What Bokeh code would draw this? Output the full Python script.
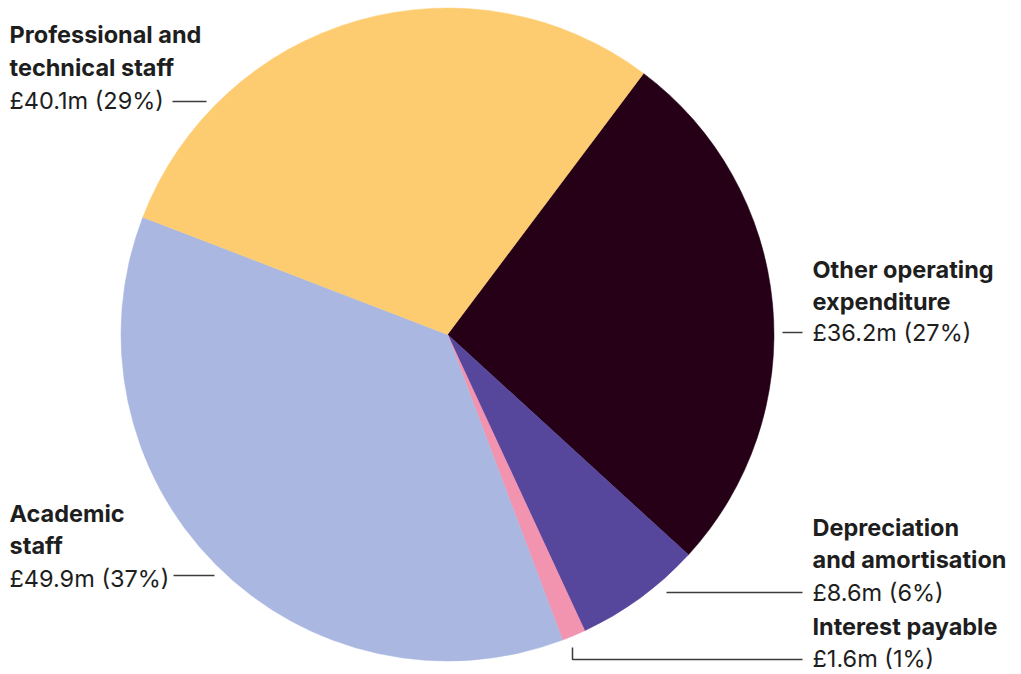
import math
from bokeh.plotting import figure
from bokeh.models import Range1d, ColumnDataSource
from bokeh.core.properties import value
from bokeh.embed import file_html
from bokeh.resources import INLINE

# ---------------- data ----------------
categories = ["Other operating expenditure", "Depreciation and amortisation",
              "Interest payable", "Academic staff", "Professional and technical staff"]
amounts = [36.2, 8.6, 1.6, 49.9, 40.1]          # £m
percents = [27, 6, 1, 37, 29]
colors = ["#250017", "#57479C", "#F293B0", "#AAB8E1", "#FECC70"]
title_lines = [["Other operating", "expenditure"],
               ["Depreciation", "and amortisation"],
               ["Interest payable"],
               ["Academic", "staff"],
               ["Professional and", "technical staff"]]

# ---------------- layout (pixel coords, y down) ----------------
W, H = 1021, 674
def Y(y_img):
    return H - y_img

CX, CY, R = 447, 334, 326.5
START_DEG = 36.9   # clockwise from 12 o'clock

FONT = value("Inter")
FS = "23.5px"
TXT = "#1e1e1e"
LINE = "#3c3c3c"
TEXT_DY = -9   # compensation for baseline placement

p = figure(width=W, height=H, output_backend="svg", toolbar_location=None,
           x_range=Range1d(0, W), y_range=Range1d(0, H),
           min_border=0, outline_line_color=None)
p.axis.visible = False
p.grid.visible = False
p.background_fill_color = "white"
p.border_fill_color = "white"

# wedges from data
total = sum(amounts)
starts, ends = [], []
acc = START_DEG
for a in amounts:
    s = acc
    e = acc + a / total * 360.0
    starts.append(math.radians(90 - s))
    ends.append(math.radians(90 - e))
    acc = e
src = ColumnDataSource(dict(x=[CX] * len(amounts), y=[Y(CY)] * len(amounts),
                            start=starts, end=ends, color=colors))
p.wedge(x="x", y="y", radius=R, start_angle="start", end_angle="end",
        direction="clock", fill_color="color", line_color="color", line_width=0.5,
        source=src)

# label placement: x and baselines of each line (title lines then value line)
label_pos = [(812, [278, 310, 341]),
             (812, [536, 568, 601]),
             (812, [635, 667]),
             (9, [522, 554, 587]),
             (9, [43, 76, 109])]

for i, (lx, bls) in enumerate(label_pos):
    lines = title_lines[i]
    for j, t in enumerate(lines):
        p.text(x=[lx], y=[Y(bls[j] + TEXT_DY)], text=[t], text_font=FONT,
               text_font_size=FS, text_font_style="bold", text_color=TXT,
               text_baseline="alphabetic", text_align="left")
    vtxt = f"£{amounts[i]}m ({percents[i]}%)"
    p.text(x=[lx], y=[Y(bls[len(lines)] + TEXT_DY)], text=[vtxt], text_font=FONT,
           text_font_size=FS, text_font_style="normal", text_color=TXT,
           text_baseline="alphabetic", text_align="left")

# leader lines (annotation geometry)
leaders = [
    ([782, 802], [332, 332]),
    ([666, 802], [592, 592]),
    ([572, 572, 802], [647, 659, 659]),
    ([173, 214], [575, 575]),
    ([172, 206], [101, 101]),
]
for xs, ys in leaders:
    p.line(xs, [Y(v) for v in ys], line_color=LINE, line_width=1.5)

open("out.html", "w").write(file_html(p, INLINE))
